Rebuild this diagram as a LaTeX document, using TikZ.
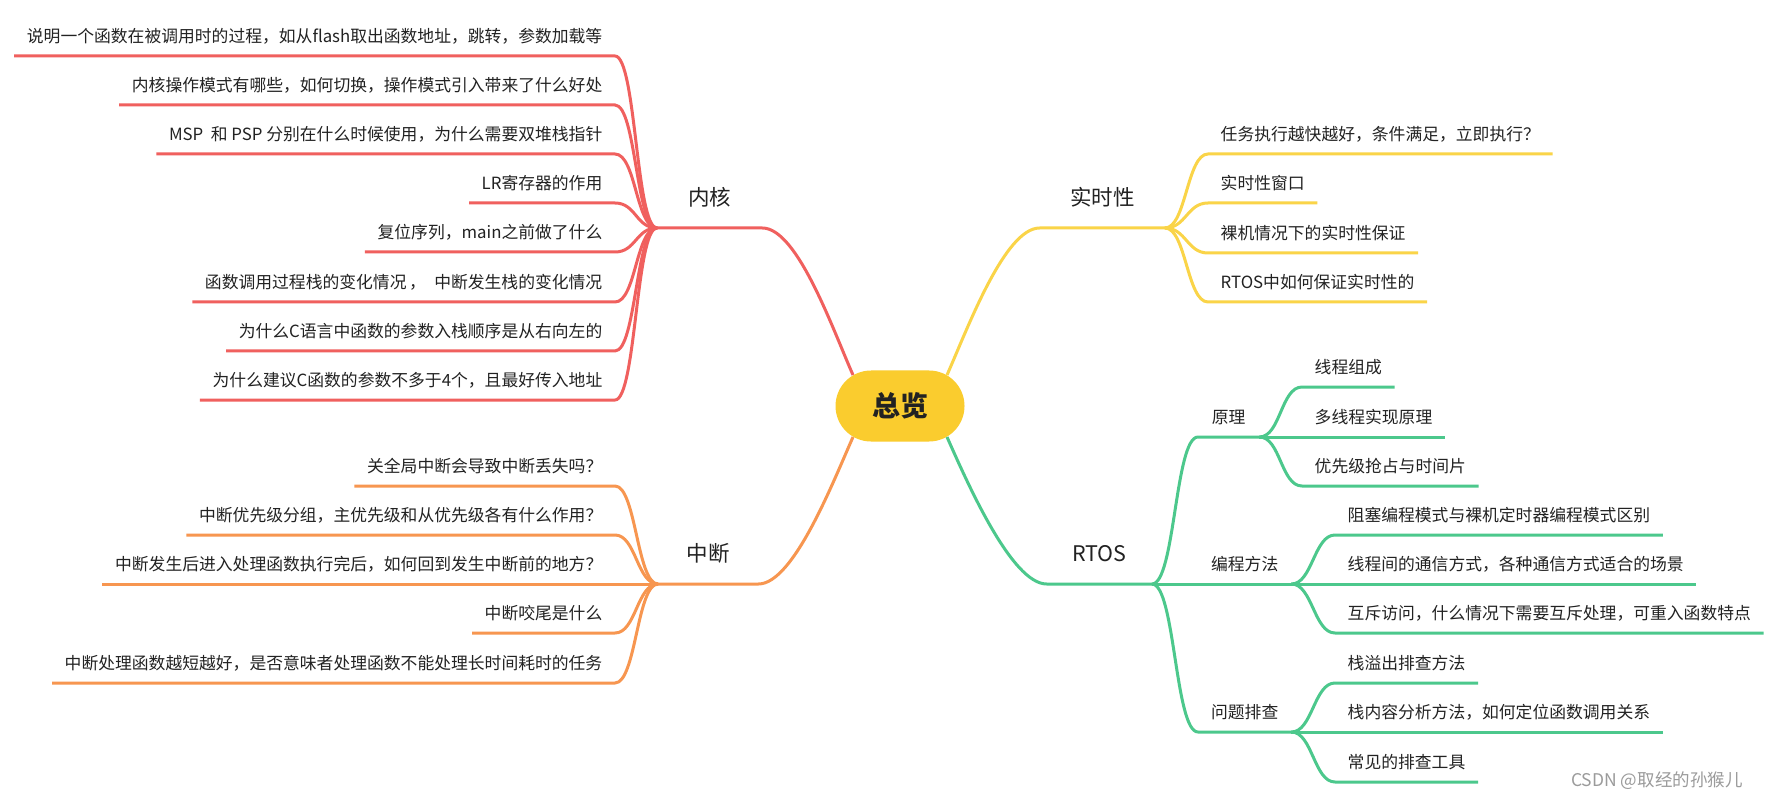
\documentclass[tikz,border=0pt]{standalone}
\usepackage{fontspec}
\setmainfont{Noto Sans CJK SC}
\usetikzlibrary{calc}
\definecolor{cred}{RGB}{240,96,94}
\definecolor{corange}{RGB}{247,150,80}
\definecolor{cyellow}{RGB}{250,212,72}
\definecolor{cgreen}{RGB}{76,200,140}
\definecolor{chub}{RGB}{250,204,46}
\definecolor{ctext}{RGB}{34,34,34}
\definecolor{cwm}{RGB}{155,155,155}
\newcommand{\leaffont}{\fontsize{16.8}{20}\selectfont}
\newcommand{\topicfont}{\fontsize{21.5}{24}\selectfont}
\newcommand{\hubfont}{\fontsize{28}{30}\selectfont\bfseries}
\tikzset{
  leaf/.style={inner xsep=12.5pt, inner ysep=0pt, minimum height=36pt, text height=13pt, text depth=3pt, font=\leaffont, text=ctext},
  subtopic/.style={inner sep=0pt, minimum height=36pt, text height=13pt, text depth=3pt, font=\leaffont, text=ctext},
  topic/.style={inner sep=0pt, minimum height=58pt, text height=17pt, text depth=4pt, font=\topicfont, text=ctext},
  link/.style={line width=3pt},
  hubnode/.style={fill=chub, rounded corners=35.5pt, minimum width=129pt, minimum height=71pt, inner sep=0pt, font=\hubfont, text=ctext},
}
\begin{document}
\begin{tikzpicture}[x=1pt,y=-1pt]
\fill[white] (0,0) rectangle (1777,799);
\useasboundingbox (0,0) rectangle (1777,799);

% center
\node[hubnode] (c) at (900,406) {总览};
\coordinate (cNW) at ($(c.center)+(-47,-31)$);
\coordinate (cNE) at ($(c.center)+(47,-31)$);
\coordinate (cSW) at ($(c.center)+(-47,31)$);
\coordinate (cSE) at ($(c.center)+(47,31)$);

% topics
\node[topic, minimum width=105pt, anchor=south west] (nk) at (657,228) {内核};
\node[topic, minimum width=100pt, anchor=south west] (nz) at (658,584) {中断};
\node[topic, minimum width=125pt, anchor=south east] (ns) at (1165,228) {实时性};
\node[topic, minimum width=105pt, anchor=south east] (nr) at (1152,584) {RTOS};

\draw[link, cred] (cNW) .. controls +(-20,-45) and +(35,0) .. (nk.south east) -- (nk.south west);
\draw[link, corange] (cSW) .. controls +(-20,45) and +(35,0) .. (nz.south east) -- (nz.south west);
\draw[link, cyellow] (cNE) .. controls +(20,-45) and +(-35,0) .. (ns.south west) -- (ns.south east);
\draw[link, cgreen] (cSE) .. controls +(20,45) and +(-35,0) .. (nr.south west) -- (nr.south east);

% kernel leaves
\node[leaf, anchor=south east] (r1) at (615,56) {说明一个函数在被调用时的过程，如从flash取出函数地址，跳转，参数加载等};
\node[leaf, anchor=south east] (r2) at (615,105) {内核操作模式有哪些，如何切换，操作模式引入带来了什么好处};
\node[leaf, anchor=south east] (r3) at (615,154) {MSP\ \ 和 PSP 分别在什么时候使用，为什么需要双堆栈指针};
\node[leaf, anchor=south east] (r4) at (615,203) {LR寄存器的作用};
\node[leaf, anchor=south east] (r5) at (615,252) {复位序列，main之前做了什么};
\node[leaf, anchor=south east] (r6) at (615,302) {函数调用过程栈的变化情况\hspace{0.15em}，\hspace{0.5em}中断发生栈的变化情况\hspace{0.4em}};
\node[leaf, anchor=south east] (r7) at (615,351) {为什么C语言中函数的参数入栈顺序是从右向左的};
\node[leaf, anchor=south east] (r8) at (615,400) {为什么建议C函数的参数不多于4个，且最好传入地址};
\foreach \n in {r1,r2,r3,r4,r5,r6,r7,r8}
  \draw[link, cred] (nk.south west) .. controls +(-21,0) and +(21,0) .. (\n.south east) -- (\n.south west);

% interrupt leaves
\node[leaf, anchor=south east] (o1) at (615,486) {关全局中断会导致中断丢失吗？};
\node[leaf, anchor=south east] (o2) at (615,535) {中断优先级分组，主优先级和从优先级各有什么作用？};
\node[leaf, anchor=south east] (o3) at (615,584) {中断发生后进入处理函数执行完后，如何回到发生中断前的地方？};
\node[leaf, anchor=south east] (o4) at (615,633) {中断咬尾是什么};
\node[leaf, anchor=south east] (o5) at (615,683) {中断处理函数越短越好，是否意味者处理函数不能处理长时间耗时的任务};
\foreach \n in {o1,o2,o3,o4,o5}
  \draw[link, corange] (nz.south west) .. controls +(-21,0) and +(21,0) .. (\n.south east) -- (\n.south west);

% realtime leaves
\node[leaf, anchor=south west] (y1) at (1208,154) {任务执行越快越好，条件满足，立即执行？};
\node[leaf, anchor=south west] (y2) at (1208,203) {实时性窗口};
\node[leaf, anchor=south west] (y3) at (1208,253) {裸机情况下的实时性保证};
\node[leaf, anchor=south west] (y4) at (1208,302) {RTOS中如何保证实时性的};
\foreach \n in {y1,y2,y3,y4}
  \draw[link, cyellow] (ns.south east) .. controls +(21,0) and +(-21,0) .. (\n.south west) -- (\n.south east);

% RTOS subtopics
\node[subtopic, minimum width=61pt, anchor=south west] (ny) at (1198,437) {原理};
\node[subtopic, minimum width=93pt, anchor=south west] (nb) at (1198,584) {编程方法};
\node[subtopic, minimum width=93pt, anchor=south west] (nw) at (1198,732) {问题排查};
\foreach \n in {ny,nb,nw}
  \draw[link, cgreen] (nr.south east) .. controls +(23,0) and +(-23,0) .. (\n.south west) -- (\n.south east);

% RTOS leaves
\node[leaf, anchor=south west] (g1) at (1302,387) {线程组成};
\node[leaf, anchor=south west] (g2) at (1302,437) {多线程实现原理};
\node[leaf, anchor=south west] (g3) at (1302,486) {优先级抢占与时间片};
\foreach \n in {g1,g2,g3}
  \draw[link, cgreen] (ny.south east) .. controls +(21,0) and +(-21,0) .. (\n.south west) -- (\n.south east);

\node[leaf, anchor=south west] (g4) at (1335,535) {阻塞编程模式与裸机定时器编程模式区别};
\node[leaf, anchor=south west] (g5) at (1335,584) {线程间的通信方式，各种通信方式适合的场景};
\node[leaf, anchor=south west] (g6) at (1335,633) {互斥访问，什么情况下需要互斥处理，可重入函数特点};
\foreach \n in {g4,g5,g6}
  \draw[link, cgreen] (nb.south east) .. controls +(21,0) and +(-21,0) .. (\n.south west) -- (\n.south east);

\node[leaf, anchor=south west] (g7) at (1335,683) {栈溢出排查方法};
\node[leaf, anchor=south west] (g8) at (1335,732) {栈内容分析方法，如何定位函数调用关系};
\node[leaf, anchor=south west] (g9) at (1335,782) {常见的排查工具};
\foreach \n in {g7,g8,g9}
  \draw[link, cgreen] (nw.south east) .. controls +(21,0) and +(-21,0) .. (\n.south west) -- (\n.south east);

% watermark
\node[anchor=west, inner sep=0pt, font=\fontsize{17.5}{20}\selectfont, text=cwm] (wm) at (1571,781) {CSDN @取经的孙猴儿};
\end{tikzpicture}
\end{document}
